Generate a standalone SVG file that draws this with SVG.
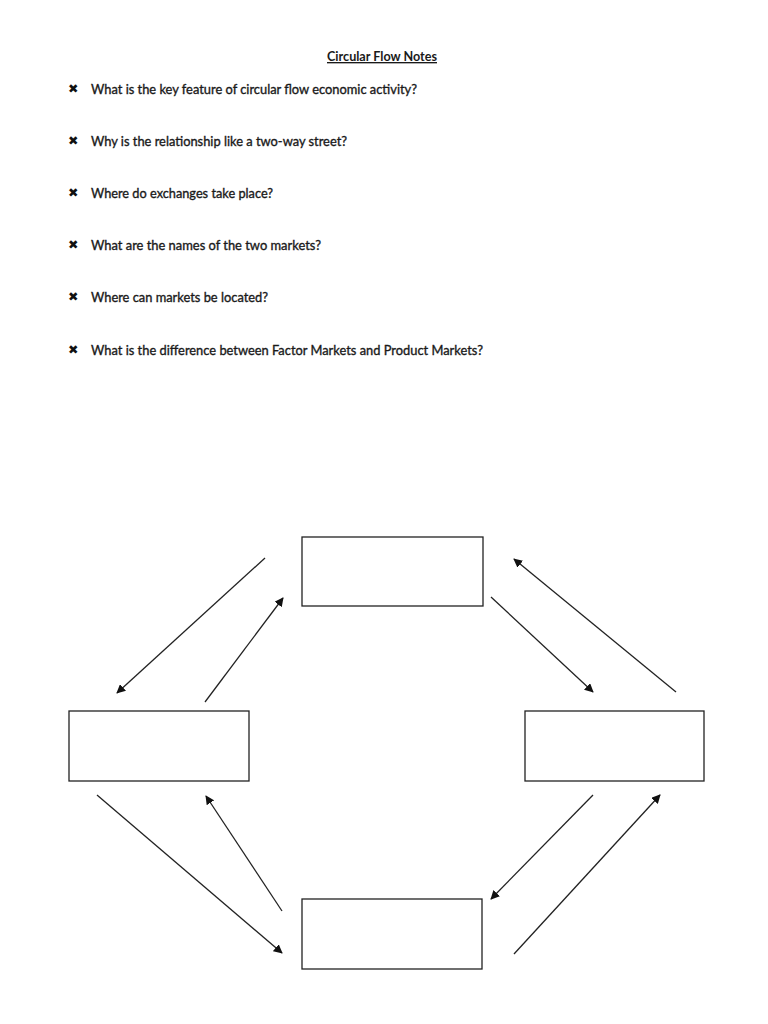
<svg xmlns="http://www.w3.org/2000/svg" width="768" height="1024" viewBox="0 0 768 1024">
<style>
.q{font-family:Lato,"Liberation Sans",Arial,sans-serif;font-size:13px;fill:#1a1a1a;stroke:#1a1a1a;stroke-width:0.35}
.t{font-family:Lato,"Liberation Sans",Arial,sans-serif;font-size:13.5px;font-weight:bold;fill:#1a1a1a;text-decoration:underline}
.b{font-family:"DejaVu Sans",sans-serif;font-size:12.5px;font-weight:bold;fill:#111}
.box{fill:#fff;stroke:#222;stroke-width:1.3}
.c{stroke:#222;stroke-width:1.3;fill:none;marker-end:url(#ah)}
</style>
<defs>
<marker id="ah" viewBox="0 0 10 10" refX="9" refY="5" markerWidth="9" markerHeight="9" markerUnits="userSpaceOnUse" orient="auto">
<path d="M0,0 L10,5 L0,10 z" fill="#111"/>
</marker>
</defs>
<rect width="768" height="1024" fill="#fff"/>
<text class="t" x="382" y="61" text-anchor="middle" textLength="110" lengthAdjust="spacingAndGlyphs">Circular Flow Notes</text>
<g id="questions">
<text class="b" x="68" y="93">✖</text>
<text class="q" x="91" y="94" textLength="326" lengthAdjust="spacingAndGlyphs">What is the key feature of circular flow economic activity?</text>
<text class="b" x="68" y="145">✖</text>
<text class="q" x="91" y="146" textLength="256" lengthAdjust="spacingAndGlyphs">Why is the relationship like a two-way street?</text>
<text class="b" x="68" y="197">✖</text>
<text class="q" x="91" y="198" textLength="182" lengthAdjust="spacingAndGlyphs">Where do exchanges take place?</text>
<text class="b" x="68" y="249">✖</text>
<text class="q" x="91" y="250" textLength="230" lengthAdjust="spacingAndGlyphs">What are the names of the two markets?</text>
<text class="b" x="68" y="301">✖</text>
<text class="q" x="91" y="302" textLength="177" lengthAdjust="spacingAndGlyphs">Where can markets be located?</text>
<text class="b" x="68" y="354">✖</text>
<text class="q" x="91" y="355" textLength="392" lengthAdjust="spacingAndGlyphs">What is the difference between Factor Markets and Product Markets?</text>
</g>
<g id="node-top"><rect class="box" x="302" y="537" width="181" height="69"/></g>
<g id="node-left"><rect class="box" x="69" y="711" width="180" height="70"/></g>
<g id="node-right"><rect class="box" x="525" y="711" width="179" height="70"/></g>
<g id="node-bottom"><rect class="box" x="302" y="899" width="180" height="70"/></g>
<g id="connectors">
<line class="c" x1="265" y1="558" x2="117" y2="693"/>
<line class="c" x1="205" y1="702" x2="283" y2="598"/>
<line class="c" x1="491" y1="597" x2="593" y2="692"/>
<line class="c" x1="676" y1="692" x2="514" y2="559"/>
<line class="c" x1="97" y1="795" x2="282" y2="953"/>
<line class="c" x1="282" y1="911" x2="206" y2="796"/>
<line class="c" x1="593" y1="795" x2="491" y2="899"/>
<line class="c" x1="514" y1="954" x2="660" y2="795"/>
</g>
</svg>
